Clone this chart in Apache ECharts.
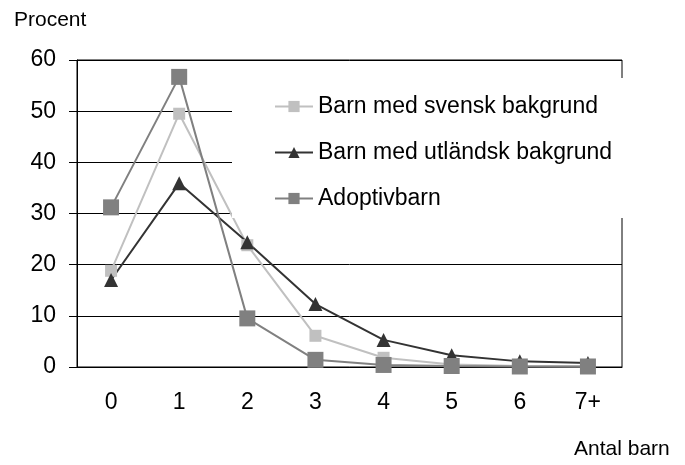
<!DOCTYPE html>
<html>
<head>
<meta charset="utf-8">
<script src="https://cdn.jsdelivr.net/npm/echarts@6/dist/echarts.min.js"></script>
<style>
  html, body { margin: 0; padding: 0; background: #fff; }
  #chart { width: 685px; height: 465px; }
</style>
</head>
<body>
<div id="chart"></div>
<script>
// data
var categories = ['0', '1', '2', '3', '4', '5', '6', '7+'];
var svensk = [18.8, 49.5, 23.8, 6.1, 1.8, 0.5, 0.2, 0.1];
var utlandsk = [17.0, 35.9, 24.4, 12.3, 5.3, 2.3, 1.1, 0.8];
var adoptiv = [31.2, 56.7, 9.5, 1.4, 0.4, 0.2, 0.1, 0.1];
var seriesNames = ['Barn med svensk bakgrund', 'Barn med utländsk bakgrund', 'Adoptivbarn'];

var font = "'Liberation Sans', Arial, sans-serif";

var myChart = echarts.init(document.getElementById('chart'), null, { renderer: 'canvas' });

var option = {
    animation: false,
    backgroundColor: '#fff',
    textStyle: { fontFamily: font },
    title: [
        {
            text: 'Procent',
            left: 14, top: 10, padding: 0,
            textStyle: { fontSize: 21, fontWeight: 'normal', color: '#000', fontFamily: font }
        },
        {
            text: 'Antal barn',
            left: 574, top: 439, padding: 0,
            textStyle: { fontSize: 21, fontWeight: 'normal', color: '#000', fontFamily: font }
        }
    ],
    legend: {
        orient: 'vertical',
        left: 232,
        top: 78,
        padding: [17, 12, 8, 42],
        backgroundColor: '#fff',
        itemWidth: 38,
        itemHeight: 14,
        itemGap: 23,
        textStyle: { fontSize: 23, color: '#000', fontFamily: font },
        data: seriesNames
    },
    grid: {
        left: 77, right: 63, top: 60, bottom: 98,
        show: true,
        borderColor: '#000',
        borderWidth: 1,
        containLabel: false
    },
    xAxis: {
        type: 'category',
        data: categories,
        boundaryGap: true,
        axisLine: { lineStyle: { color: '#000', width: 1 } },
        axisTick: { show: false },
        axisLabel: { margin: 24, fontSize: 23, color: '#000', fontFamily: font },
        splitLine: { show: false }
    },
    yAxis: {
        type: 'value',
        min: 0, max: 60, interval: 10,
        axisLine: { show: true, lineStyle: { color: '#000', width: 1 } },
        axisTick: { show: true, length: 8, inside: false, lineStyle: { color: '#000' } },
        axisLabel: { margin: 21, fontSize: 23, color: '#000', fontFamily: font },
        splitLine: { show: true, lineStyle: { color: '#000', width: 1 } }
    },
    series: [
        {
            name: seriesNames[0],
            type: 'line',
            data: svensk,
            symbol: 'rect',
            symbolSize: 12,
            color: '#c0c0c0',
            lineStyle: { width: 2, color: '#c0c0c0' },
            itemStyle: { color: '#c0c0c0' }
        },
        {
            name: seriesNames[1],
            type: 'line',
            data: utlandsk,
            symbol: 'triangle',
            symbolSize: 14,
            color: '#333333',
            lineStyle: { width: 2, color: '#333333' },
            itemStyle: { color: '#333333' }
        },
        {
            name: seriesNames[2],
            type: 'line',
            data: adoptiv,
            symbol: 'rect',
            symbolSize: 16,
            color: '#808080',
            lineStyle: { width: 2, color: '#808080' },
            itemStyle: { color: '#808080' }
        }
    ]
};

myChart.setOption(option);
</script>
</body>
</html>
